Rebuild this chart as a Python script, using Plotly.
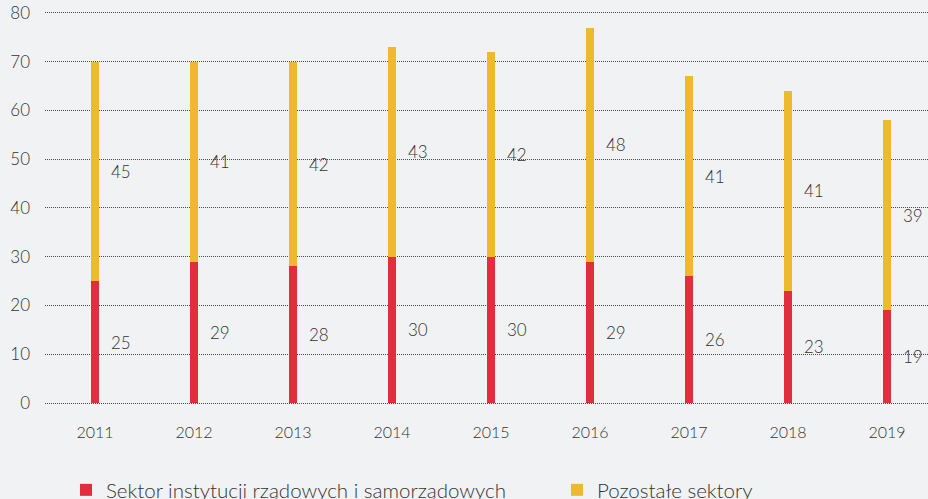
import plotly.graph_objects as go

years = ["2011", "2012", "2013", "2014", "2015", "2016", "2017", "2018", "2019"]
government = [25, 29, 28, 30, 30, 29, 26, 23, 19]
other = [45, 41, 42, 43, 42, 48, 41, 41, 39]
y_ticks = [0, 10, 20, 30, 40, 50, 60, 70, 80]

RED = "#e12d3c"
YELLOW = "#f0b82d"
TEXT = "#333333"
BG = "#f1f2f4"
FONT = "Lato"
WEIGHT = 300

x_pos = list(range(len(years)))

fig = go.Figure()
fig.add_trace(go.Bar(
    x=x_pos, y=government, name="Sektor instytucji rządowych i samorządowych",
    marker=dict(color=RED, line=dict(width=0)), width=0.085, legend="legend",
))
fig.add_trace(go.Bar(
    x=x_pos, y=other, name="Pozostałe sektory",
    marker=dict(color=YELLOW, line=dict(width=0)), width=0.085, legend="legend2",
))

# value labels to the right of each segment, at the segment's midpoint
annotations = []
for i, (g, o) in enumerate(zip(government, other)):
    for val, mid in ((g, g / 2), (o, g + o / 2)):
        annotations.append(dict(
            x=i, y=mid, text=str(val), showarrow=False,
            xanchor="left", yanchor="middle", xshift=14,
            font=dict(family=FONT, size=17, color=TEXT, weight=WEIGHT),
        ))

legend_style = dict(
    orientation="h", xref="container", yref="container",
    yanchor="middle", xanchor="left", y=0.018,
    font=dict(family=FONT, size=20.5, color=TEXT, weight=WEIGHT),
    bgcolor="rgba(0,0,0,0)",
)

fig.update_layout(
    barmode="stack",
    width=928, height=499,
    paper_bgcolor=BG, plot_bgcolor=BG,
    margin=dict(l=45, r=0, t=8, b=94),
    bargap=0,
    showlegend=True,
    legend=dict(legend_style, x=0.0711),
    legend2=dict(legend_style, x=0.6002),
    annotations=annotations,
    font=dict(family=FONT, color=TEXT, weight=WEIGHT),
)
fig.update_xaxes(
    range=[-0.505, 8.414],
    tickmode="array", tickvals=x_pos, ticktext=years,
    showgrid=False, zeroline=False, showline=False,
    tickfont=dict(family=FONT, size=16, color=TEXT, weight=WEIGHT),
    ticklabelstandoff=16,
)
fig.update_yaxes(
    range=[-0.4, 81],
    tickmode="array", tickvals=y_ticks,
    showgrid=True, gridcolor="#4a4a4a", gridwidth=1, griddash="1px,1px",
    zeroline=False, showline=False,
    tickfont=dict(family=FONT, size=17, color=TEXT, weight=WEIGHT),
    ticklabelstandoff=14,
)

fig.write_html("out.html")
